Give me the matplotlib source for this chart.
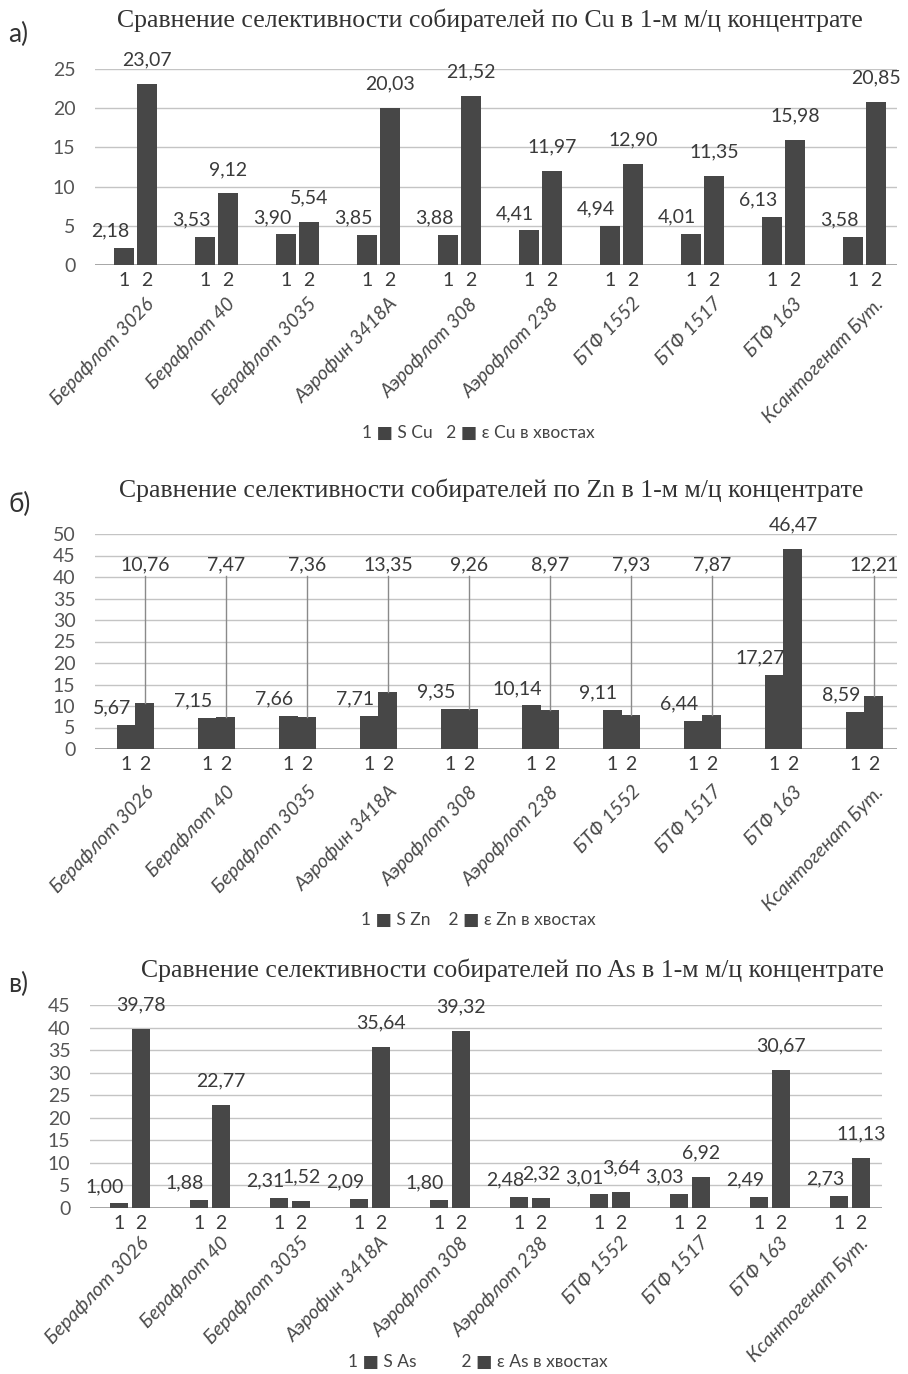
import matplotlib.pyplot as plt

collectors = ['Берафлот 3026', 'Берафлот 40', 'Берафлот 3035', 'Аэрофин 3418А', 'Аэрофлот 308',
              'Аэрофлот 238', 'БТФ 1552', 'БТФ 1517', 'БТФ 163', 'Ксантогенат Бут.']

cu_s = [2.18, 3.53, 3.90, 3.85, 3.88, 4.41, 4.94, 4.01, 6.13, 3.58]
cu_e = [23.07, 9.12, 5.54, 20.03, 21.52, 11.97, 12.90, 11.35, 15.98, 20.85]
zn_s = [5.67, 7.15, 7.66, 7.71, 9.35, 10.14, 9.11, 6.44, 17.27, 8.59]
zn_e = [10.76, 7.47, 7.36, 13.35, 9.26, 8.97, 7.93, 7.87, 46.47, 12.21]
as_s = [1.00, 1.88, 2.31, 2.09, 1.80, 2.48, 3.01, 3.03, 2.49, 2.73]
as_e = [39.78, 22.77, 1.52, 35.64, 39.32, 2.32, 3.64, 6.92, 30.67, 11.13]

titles = ['Сравнение селективности собирателей по Cu в 1-м м/ц концентрате',
          'Сравнение селективности собирателей по Zn в 1-м м/ц концентрате',
          'Сравнение селективности собирателей по As в 1-м м/ц концентрате']
letters = ['а)', 'б)', 'в)']
legends = ['1 ■ S Cu   2 ■ ε Cu в хвостах',
           '1 ■ S Zn    2 ■ ε Zn в хвостах',
           '1 ■ S As          2 ■ ε As в хвостах']

W, H = 908, 1374
fig = plt.figure(figsize=(W / 100, H / 100), dpi=100)

SANS = ['Lato', 'DejaVu Sans']
SERIF = ['Liberation Serif', 'DejaVu Serif']
BAR = '#474747'
TXT = '#3a3a3a'

# per panel: series, ymax, axes box in pixels, bar offset / width
panels = [
    dict(s=cu_s, e=cu_e, ymax=25, left=95, top=69, bottom=265, step=81, off=0.142, bw=0.235,
         title_y=20, title_x=490, leg_y=433, lab_drop=30, leader=False),
    dict(s=zn_s, e=zn_e, ymax=50, left=95, top=534, bottom=749, step=81, off=0.117, bw=0.235,
         title_y=490, title_x=491, leg_y=920, lab_drop=34, leader=True),
    dict(s=as_s, e=as_e, ymax=45, left=90, top=1005, bottom=1208, step=80, off=0.14, bw=0.225,
         title_y=970, title_x=512, leg_y=1362, lab_drop=26, leader=False),
]

for k, p in enumerate(panels):
    n = len(collectors)
    width_px = p['step'] * (n - 0.1)
    ax = fig.add_axes([p['left'] / W, 1 - p['bottom'] / H, width_px / W, (p['bottom'] - p['top']) / H])
    x = list(range(n))
    x1 = [i - p['off'] for i in x]
    x2 = [i + p['off'] for i in x]
    ax.bar(x1, p['s'], width=p['bw'], color=BAR, zorder=3)
    ax.bar(x2, p['e'], width=p['bw'], color=BAR, zorder=3)
    ax.set_xlim(-0.5, n - 0.6)
    ax.set_ylim(0, p['ymax'])
    ax.set_yticks(range(0, p['ymax'] + 1, 5))
    ax.grid(axis='y', color='#c4c4c4', lw=1, zorder=0)
    ax.axhline(0, color='#9a9a9a', lw=1.2, zorder=2)
    for sp in ax.spines.values():
        sp.set_visible(False)
    ax.tick_params(length=0, labelsize=14, labelcolor='#555555', pad=14)
    for lab in ax.get_yticklabels():
        lab.set_family(SANS)

    ax.set_xticks(x1 + x2)
    ax.set_xticklabels(['1'] * n + ['2'] * n, fontsize=14, family=SANS, color=TXT)
    ax.tick_params(axis='x', pad=5)

    # data labels
    for i in x:
        ax.annotate(f"{p['s'][i]:.2f}".replace('.', ','), (x1[i], p['s'][i]),
                    xytext=(-14, 17), textcoords='offset pixels', ha='center', va='center',
                    fontsize=14, family=SANS, color=TXT, zorder=4)
        v = p['e'][i]
        txt = f"{v:.2f}".replace('.', ',')
        if p['leader'] and v < 40:
            ax.annotate(txt, (x2[i], 42.8), ha='center', va='center',
                        fontsize=14, family=SANS, color=TXT, zorder=4)
            ax.plot([x2[i], x2[i]], [40.3, v], color='#8a8a8a', lw=1, zorder=4)
        else:
            ax.annotate(txt, (x2[i], v), xytext=(0, 24), textcoords='offset pixels',
                        ha='center', va='center', fontsize=14, family=SANS, color=TXT, zorder=4)

    # category names
    for i, name in enumerate(collectors):
        ax.annotate(name, (i + 0.12, 0), xycoords=('data', 'axes fraction'),
                    xytext=(0, -p['lab_drop']), textcoords='offset pixels',
                    rotation=46, rotation_mode='anchor', ha='right', va='top',
                    fontsize=14, family=SANS, style='italic', color='#4a4a4a')

    fig.text(p['title_x'] / W, 1 - p['title_y'] / H, titles[k], ha='center', va='center',
             fontsize=18.5, family=SERIF, color='#333333')
    fig.text(8 / W, 1 - (p['title_y'] + 14) / H, letters[k], ha='left', va='center',
             fontsize=19, family=SANS, color='#333333')
    fig.text(478 / W, 1 - p['leg_y'] / H, legends[k], ha='center', va='center',
             fontsize=12.5, family=SANS, color='#444444')

fig.savefig('out.png', dpi=100, facecolor='white')
